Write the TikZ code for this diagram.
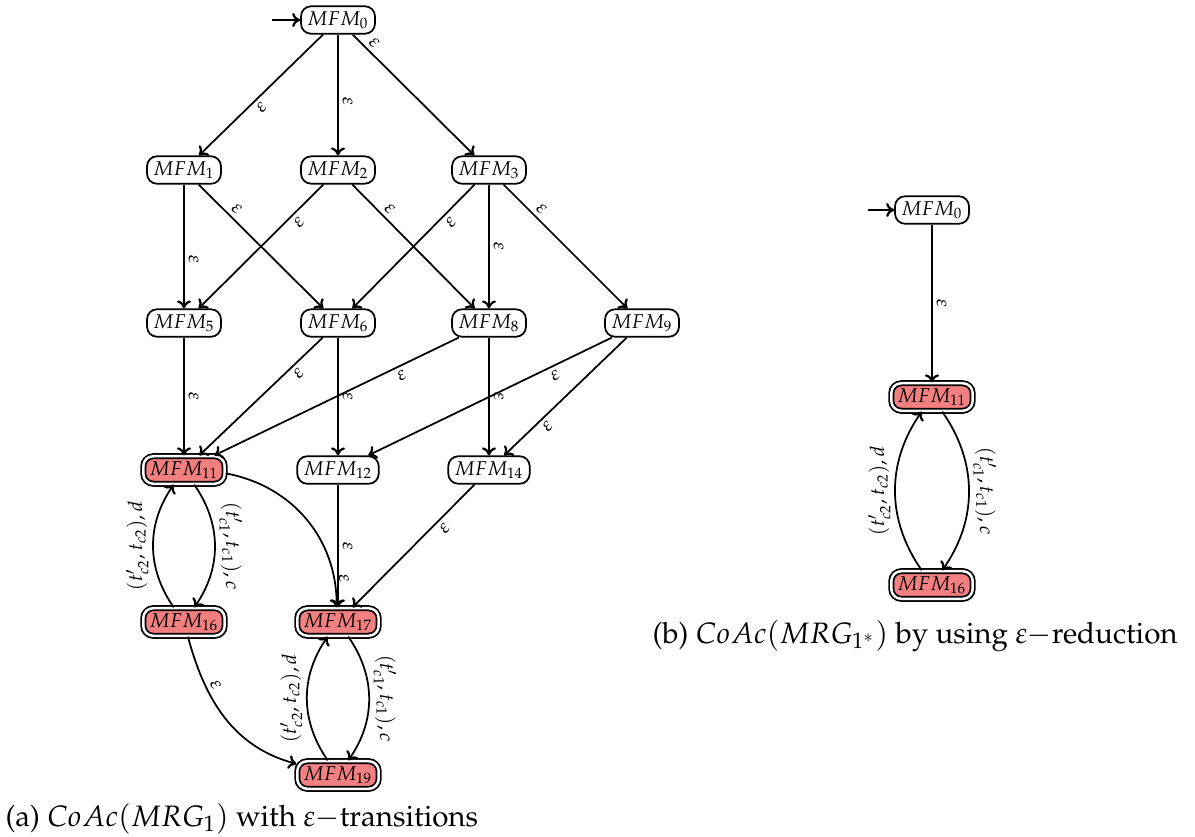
\documentclass[tikz,border=0pt]{standalone}
\usepackage[T1]{fontenc}
\usepackage{mathpazo}
\usetikzlibrary{arrows.meta}
\definecolor{accred}{RGB}{242,128,128}
\tikzset{
  st/.style={draw, rounded corners=4pt, line width=0.7pt, inner xsep=2.5pt, inner ysep=2pt, minimum height=10pt, font=\fontsize{8}{9}\selectfont},
  acc/.style={st, double, double distance=1pt, fill=accred},
  tr/.style={-{To[length=3.2pt,width=5.6pt,line width=0.9pt]}, line width=0.7pt, auto},
  lab/.style={sloped, font=\fontsize{8}{9}\selectfont, inner sep=1.5pt},
  capt/.style={anchor=base west, inner sep=0pt, font=\fontsize{11.8}{14}\selectfont},
}
\begin{document}
\begin{tikzpicture}[x=0.4pt,y=0.4pt]
\useasboundingbox (0,0) rectangle (1195,836);
% (a)
\node[st] (a0) at (338,816) {$MFM_{0}$};
\node[st] (a1) at (184,666) {$MFM_{1}$};
\node[st] (a2) at (338,666) {$MFM_{2}$};
\node[st] (a3) at (489,666) {$MFM_{3}$};
\node[st] (a5) at (184,513) {$MFM_{5}$};
\node[st] (a6) at (338,513) {$MFM_{6}$};
\node[st] (a8) at (489,513) {$MFM_{8}$};
\node[st] (a9) at (642,513) {$MFM_{9}$};
\node[acc] (a11) at (184,366) {$MFM_{11}$};
\node[st] (a12) at (338,366) {$MFM_{12}$};
\node[st] (a14) at (489,366) {$MFM_{14}$};
\node[acc] (a16) at (184,214) {$MFM_{16}$};
\node[acc] (a17) at (338,214) {$MFM_{17}$};
\node[acc] (a19) at (338,61) {$MFM_{19}$};
\coordinate (ia) at (272,816);
\draw[tr] (ia) -- (a0);
\draw[tr] (a0) to node[lab,swap,pos=.55]{$\varepsilon$} (a1);
\draw[tr] (a0) to node[lab,pos=.55]{$\varepsilon$} (a2);
\draw[tr] (a0) to node[lab,pos=.12]{$\varepsilon$} (a3);
\draw[tr] (a1) to node[lab,pos=.6]{$\varepsilon$} (a5);
\draw[tr] (a1) to node[lab,pos=.25]{$\varepsilon$} (a6);
\draw[tr] (a2) to node[lab,swap,pos=.25]{$\varepsilon$} (a5);
\draw[tr] (a2) to node[lab,pos=.25]{$\varepsilon$} (a8);
\draw[tr] (a3) to node[lab,swap,pos=.25]{$\varepsilon$} (a6);
\draw[tr] (a3) to node[lab,pos=.5]{$\varepsilon$} (a8);
\draw[tr] (a3) to node[lab,pos=.25]{$\varepsilon$} (a9);
\draw[tr] (a5) to node[lab,pos=.5]{$\varepsilon$} (a11);
\draw[tr] (a6) to node[lab,swap,pos=.25]{$\varepsilon$} (a11);
\draw[tr] (a6) to node[lab,pos=.5]{$\varepsilon$} (a12);
\draw[tr] (a8) to node[lab,swap,pos=.25]{$\varepsilon$} (a11);
\draw[tr] (a8) to node[lab,pos=.5]{$\varepsilon$} (a14);
\draw[tr] (a9) to node[lab,swap,pos=.25]{$\varepsilon$} (a12);
\draw[tr] (a9) to node[lab,swap,pos=.7]{$\varepsilon$} (a14);
\draw[tr] (a12) to node[lab,pos=.5]{$\varepsilon$} (a17);
\draw[tr] (a14) to node[lab,swap,pos=.3]{$\varepsilon$} (a17);
\draw[tr] (a11) to[bend left=40] node[lab,pos=.86]{$\varepsilon$} (a17);
\draw[tr] (a11) to[bend left=35] node[lab]{$(t'_{c1},t_{c1}),c$} (a16);
\draw[tr] (a16) to[bend left=35] node[lab]{$(t'_{c2},t_{c2}),d$} (a11);
\draw[tr] (a16) to[out=-75,in=165] node[lab,pos=.3]{$\varepsilon$} (a19);
\draw[tr] (a17) to[bend left=35] node[lab]{$(t'_{c1},t_{c1}),c$} (a19);
\draw[tr] (a19) to[bend left=35] node[lab]{$(t'_{c2},t_{c2}),d$} (a17);
\node[capt] (capa) at (5,10) {(a) $CoAc(MRG_1)$ with $\varepsilon-$transitions};
% (b)
\node[st] (b0) at (932,626) {$MFM_{0}$};
\node[acc] (b11) at (932,439) {$MFM_{11}$};
\node[acc] (b16) at (932,251) {$MFM_{16}$};
\coordinate (ib) at (868,626);
\draw[tr] (ib) -- (b0);
\draw[tr] (b0) to node[lab,pos=.5]{$\varepsilon$} (b11);
\draw[tr] (b11) to[bend left=35] node[lab]{$(t'_{c1},t_{c1}),c$} (b16);
\draw[tr] (b16) to[bend left=35] node[lab]{$(t'_{c2},t_{c2}),d$} (b11);
\node[capt] (capb) at (652,193) {(b) $CoAc(MRG_{1^*})$ by using $\varepsilon-$reduction};
\end{tikzpicture}
\end{document}
